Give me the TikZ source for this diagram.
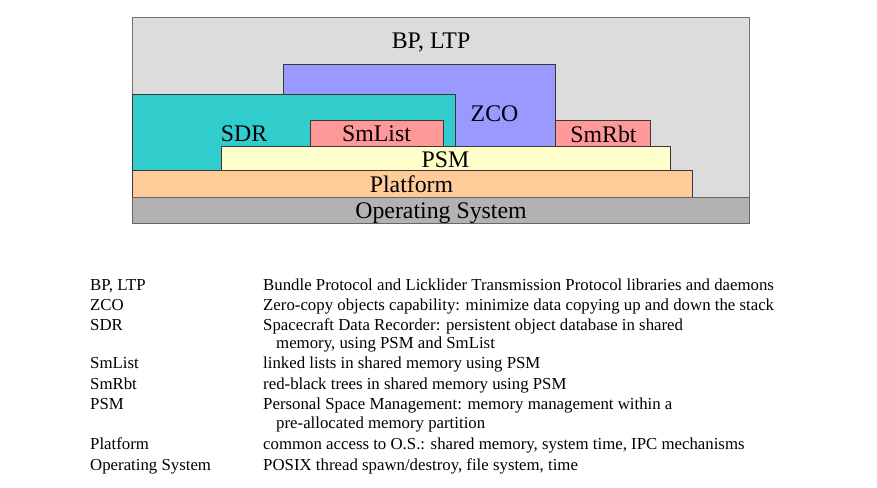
\documentclass[tikz,border=0pt]{standalone}
\usepackage{fontspec}
\setmainfont{Liberation Serif}
\usepackage{tikz}

\definecolor{bpgray}{HTML}{DCDCDC}
\definecolor{osgray}{HTML}{B2B2B2}
\definecolor{platorange}{HTML}{FFCC99}
\definecolor{psmyellow}{HTML}{FFFFCC}
\definecolor{sdrteal}{HTML}{33CCCC}
\definecolor{zcoblue}{HTML}{9999FF}
\definecolor{smpink}{HTML}{FF9999}

\begin{document}
\begin{tikzpicture}[x=1pt,y=-1pt,
  layer/.style={draw=black!78,line width=0.8pt},
  big/.style={anchor=base,inner sep=0pt,font=\fontsize{23.8}{26}\selectfont},
  key/.style={anchor=base west,inner sep=0pt,font=\fontsize{16.8}{19}\selectfont}]

\useasboundingbox (0,0) rectangle (877,487);

% the stack
 \draw[draw=black!55,line width=0.8pt,fill=bpgray] (132,17) rectangle (749,197);
  \draw[layer,fill=zcoblue] (283,64.5) rectangle (555,146.5);
   \draw[layer,fill=sdrteal] (132,94.5) rectangle (455,170.5);
    \draw[layer,fill=smpink] (310,120.5) rectangle (443,146.5);
    \draw[layer,fill=smpink] (555,120.5) rectangle (650.5,146.5);
   \draw[layer,fill=psmyellow] (221,146.5) rectangle (670,170.5);
  \draw[layer,fill=platorange] (132,170.5) rectangle (692,197);
 \draw[draw=black!60,line width=0.8pt,fill=osgray] (132,197) rectangle (749,223);

 \node[big] (bp) at (431,48.5) {BP, LTP};
  \node[big] (zco) at (494.5,121) {ZCO};
   \node[big] (sdr) at (244,141) {SDR};
    \node[big] (smlist) at (376.5,141.5) {SmList};
    \node[big] (smrbt) at (603.5,142) {SmRbt};
   \node[big] (psm) at (445.5,167.5) {PSM};
  \node[big] (plat) at (411.5,192.5) {Platform};
 \node[big] (os) at (441,218.5) {Operating System};

% the legend
 \node[key] (kbp) at (90,290.5) {BP, LTP};
 \node[key] (kzco) at (90,310.5) {ZCO};
 \node[key] (ksdr) at (90,330.5) {SDR};
 \node[key] (ksmlist) at (90,368.5) {SmList};
 \node[key] (ksmrbt) at (90,389.5) {SmRbt};
 \node[key] (kpsm) at (90,409.5) {PSM};
 \node[key] (kplat) at (90,449.5) {Platform};
 \node[key] (kos) at (90,470.5) {Operating System};

 \node[key] (dbp) at (263,290.5) {Bundle Protocol and Licklider Transmission Protocol libraries and daemons};
 \node[key] (dzco) at (263,310.5) {Zero-copy objects capability: minimize data copying up and down the stack};
 \node[key] (dsdr) at (263,330.5) {Spacecraft Data Recorder: persistent object database in shared};
  \node[key] (dsdr2) at (276,348.5) {memory, using PSM and SmList};
 \node[key] (dsmlist) at (263,368.5) {linked lists in shared memory using PSM};
 \node[key] (dsmrbt) at (263,389.5) {red-black trees in shared memory using PSM};
 \node[key] (dpsm) at (263,409.5) {Personal Space Management: memory management within a};
  \node[key] (dpsm2) at (276,428.5) {pre-allocated memory partition};
 \node[key] (dplat) at (263,449.5) {common access to O.S.: shared memory, system time, IPC mechanisms};
 \node[key] (dos) at (263,470.5) {POSIX thread spawn/destroy, file system, time};

\end{tikzpicture}
\end{document}
